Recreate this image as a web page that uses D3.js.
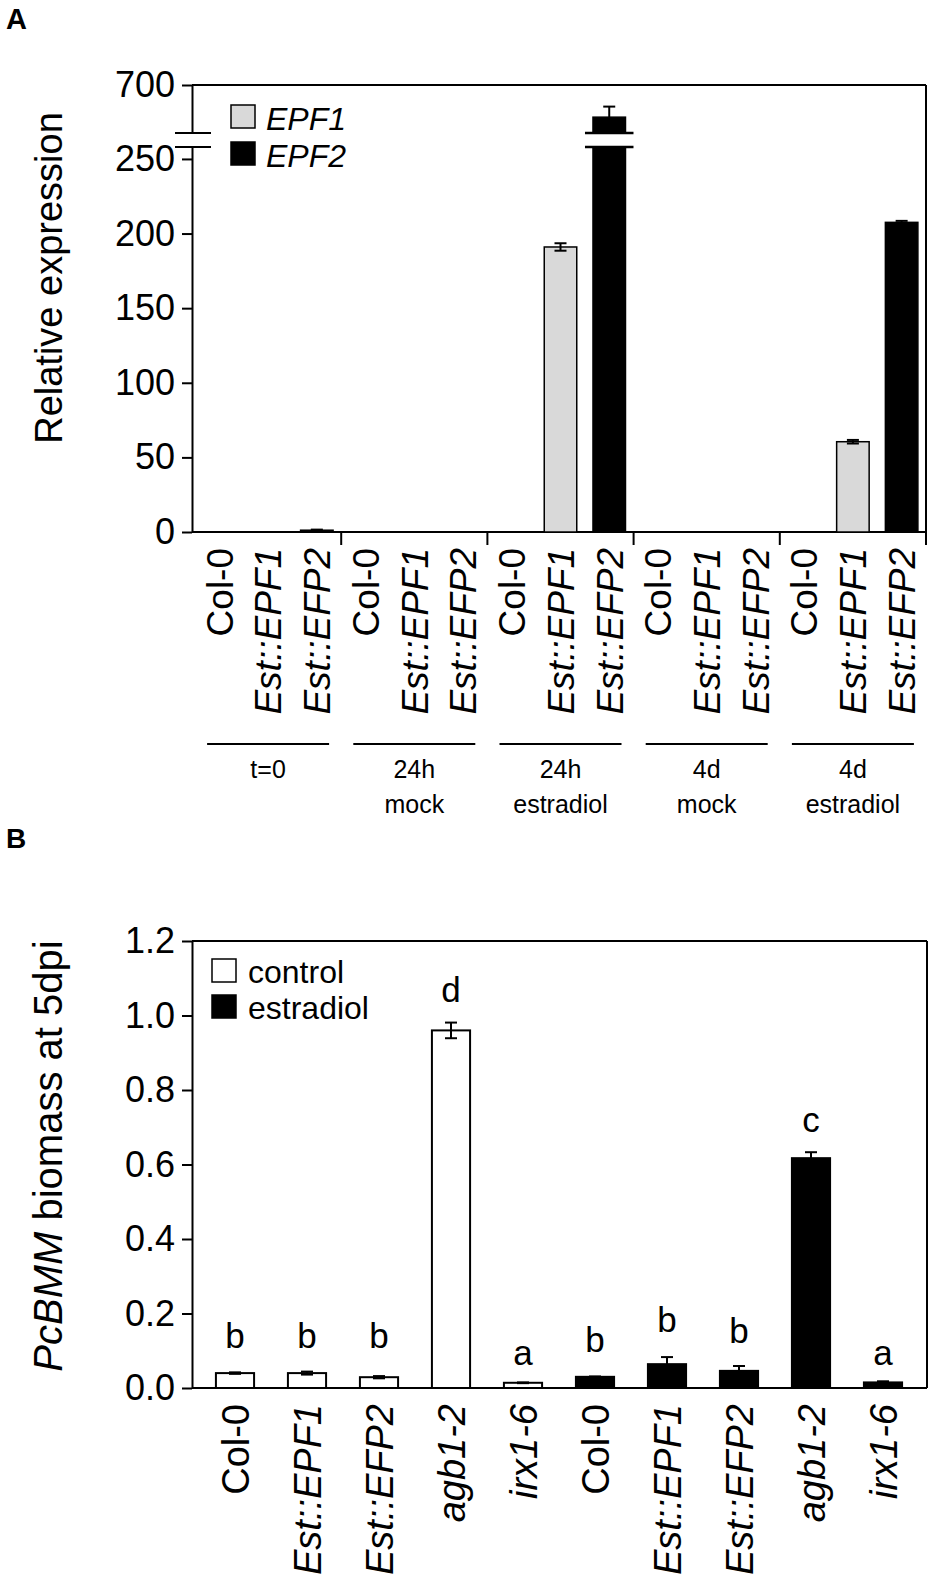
<!DOCTYPE html>
<html><head><meta charset="utf-8">
<script src="https://cdn.jsdelivr.net/npm/d3@7"></script>
<style>
body{margin:0;background:#fff}
text{font-family:"Liberation Sans",Arial,Helvetica,sans-serif;fill:#000}
</style>
</head><body>
<svg id="chart" width="934" height="1590"></svg>
<script>
// ---------- Panel A data ----------
const groupLine1 = ["t=0", "24h", "24h", "4d", "4d"];
const groupLine2 = ["", "mock", "estradiol", "mock", "estradiol"];
const linesA = ["Col-0", "Est::EPF1", "Est::EFP2"];
const geneA = ["none", "EPF1", "EPF2"];
const valuesA = [0, 0, 1.2,   0, 0, 0,   0, 191, 633,   0, 0, 0,   0, 60.5, 207.5];
const errorsA = [0, 0, 0.4,   0, 0, 0,   0, 2.5, 22,    0, 0, 0,   0, 1.2, 1];
const legendA = ["EPF1", "EPF2"];
const ticksALower = [0, 50, 100, 150, 200, 250];
const ticksAUpper = [700];

// ---------- Panel B data ----------
const genotypesB = ["Col-0", "Est::EPF1", "Est::EFP2", "agb1-2", "irx1-6",
                    "Col-0", "Est::EPF1", "Est::EFP2", "agb1-2", "irx1-6"];
const treatmentB = ["control", "control", "control", "control", "control",
                    "estradiol", "estradiol", "estradiol", "estradiol", "estradiol"];
const valuesB = [0.040, 0.040, 0.029, 0.960, 0.014,  0.030, 0.064, 0.046, 0.617, 0.015];
const errorsB = [0.002, 0.004, 0.003, 0.021, 0.001,  0.001, 0.019, 0.013, 0.016, 0.003];
const lettersB = ["b", "b", "b", "d", "a", "b", "b", "b", "c", "a"];
const letterPosB = [0.107, 0.107, 0.107, 1.035, 0.062, 0.097, 0.150, 0.120, 0.686, 0.062];
const legendB = ["control", "estradiol"];
const ticksB = [0, 0.2, 0.4, 0.6, 0.8, 1.0, 1.2];

const svg = d3.select("#chart");
const FONT = '"Liberation Sans",Arial,Helvetica,sans-serif';
const fillGene = {none: "#fff", EPF1: "#d9d9d9", EPF2: "#000"};
const fillTreat = {control: "#fff", estradiol: "#000"};

// ============ PANEL A ============
svg.append("text").attr("x", 6).attr("y", 29).attr("font-size", 29).attr("font-weight", "bold").text("A");

const A = {left: 192, right: 926, top: 85, bottom: 532, breakHi: 133, breakLo: 147};
const catsA = [];
groupLine1.forEach((g, gi) => linesA.forEach((l, li) => catsA.push({g: gi, l: li, key: gi + "_" + li})));
catsA.forEach((c, i) => { c.v = valuesA[i]; c.e = errorsA[i]; c.gene = geneA[c.l]; c.label = linesA[c.l]; });

const xA = d3.scaleBand().domain(catsA.map(c => c.key)).range([195, 926]).paddingInner(0.333).paddingOuter(0.1665);
const yLow = d3.scaleLinear().domain([0, 258]).range([A.bottom, A.breakLo]);
const yUp = d3.scaleLinear().domain([600, 700]).range([A.breakHi, A.top]);

function styleAxis(g, fs) {
  g.selectAll("path,line").attr("stroke", "#000").attr("stroke-width", 2);
  g.selectAll("text").attr("font-size", fs).attr("font-family", FONT).attr("fill", "#000");
}
const axLow = svg.append("g").attr("transform", `translate(${A.left},0)`)
  .call(d3.axisLeft(yLow).tickValues(ticksALower).tickSize(10).tickSizeOuter(0).tickPadding(7));
styleAxis(axLow, 36);
const axUp = svg.append("g").attr("transform", `translate(${A.left},0)`)
  .call(d3.axisLeft(yUp).tickValues(ticksAUpper).tickSize(10).tickSizeOuter(0).tickPadding(7));
styleAxis(axUp, 36);
// axis break marks
[A.breakHi, A.breakLo].forEach(y => svg.append("line").attr("x1", A.left - 17).attr("x2", A.left + 19)
  .attr("y1", y).attr("y2", y).attr("stroke", "#000").attr("stroke-width", 2));
// frame
svg.append("line").attr("x1", A.left).attr("x2", A.right).attr("y1", A.top).attr("y2", A.top).attr("stroke", "#000").attr("stroke-width", 2);
svg.append("line").attr("x1", A.right).attr("x2", A.right).attr("y1", A.top).attr("y2", A.bottom + 13).attr("stroke", "#000").attr("stroke-width", 2);
svg.append("line").attr("x1", A.left).attr("x2", A.right).attr("y1", A.bottom).attr("y2", A.bottom).attr("stroke", "#000").attr("stroke-width", 2);

// group separators
const stepA = xA.step();
const groupStart = gi => xA(gi + "_0") - stepA * 0.1665;
for (let gi = 1; gi < groupLine1.length; gi++) {
  const x = groupStart(gi);
  svg.append("line").attr("x1", x).attr("x2", x).attr("y1", A.bottom).attr("y2", A.bottom + 13).attr("stroke", "#000").attr("stroke-width", 2);
}

// bars A
const barsA = svg.append("g");
catsA.filter(c => c.gene !== "none" && c.v > 0).forEach(c => {
  const x0 = xA(c.key), w = xA.bandwidth(), cx = x0 + w / 2;
  const fill = fillGene[c.gene];
  if (c.v > 258) {
    barsA.append("rect").attr("x", x0).attr("y", A.breakLo).attr("width", w).attr("height", A.bottom - A.breakLo)
      .attr("fill", fill).attr("stroke", "#000").attr("stroke-width", 1.5);
    barsA.append("rect").attr("x", x0).attr("y", yUp(c.v)).attr("width", w).attr("height", A.breakHi - yUp(c.v))
      .attr("fill", fill).attr("stroke", "#000").attr("stroke-width", 1.5);
    [A.breakHi, A.breakLo].forEach(y => barsA.append("line").attr("x1", x0 - 8).attr("x2", x0 + w + 8)
      .attr("y1", y).attr("y2", y).attr("stroke", "#000").attr("stroke-width", 2.5));
    const yt = yUp(c.v + c.e);
    barsA.append("line").attr("x1", cx).attr("x2", cx).attr("y1", yUp(c.v)).attr("y2", yt).attr("stroke", "#000").attr("stroke-width", 2);
    barsA.append("line").attr("x1", cx - 6).attr("x2", cx + 6).attr("y1", yt).attr("y2", yt).attr("stroke", "#000").attr("stroke-width", 2);
  } else {
    barsA.append("rect").attr("x", x0).attr("y", yLow(c.v)).attr("width", w).attr("height", A.bottom - yLow(c.v))
      .attr("fill", fill).attr("stroke", "#000").attr("stroke-width", 1.5);
    const yt = yLow(c.v + c.e), yb = yLow(c.v - c.e);
    barsA.append("line").attr("x1", cx).attr("x2", cx).attr("y1", yb).attr("y2", yt).attr("stroke", "#000").attr("stroke-width", 2);
    [yt, yb].forEach(y => barsA.append("line").attr("x1", cx - 6).attr("x2", cx + 6).attr("y1", y).attr("y2", y).attr("stroke", "#000").attr("stroke-width", 2));
  }
});

// category labels A
catsA.forEach(c => {
  const cx = xA(c.key) + xA.bandwidth() / 2;
  svg.append("text").attr("transform", `translate(${cx},548) rotate(-90)`)
    .attr("text-anchor", "end").attr("dy", "0.36em").attr("font-size", 37)
    .attr("font-style", c.label === "Col-0" ? "normal" : "italic").text(c.label);
});
// group lines and labels
groupLine1.forEach((g, gi) => {
  const cx = groupStart(gi) + stepA * 1.5;
  svg.append("line").attr("x1", cx - 61).attr("x2", cx + 61).attr("y1", 744).attr("y2", 744).attr("stroke", "#000").attr("stroke-width", 2);
  svg.append("text").attr("x", cx).attr("y", 778).attr("text-anchor", "middle").attr("font-size", 25).text(g);
  if (groupLine2[gi]) svg.append("text").attr("x", cx).attr("y", 813).attr("text-anchor", "middle").attr("font-size", 25).text(groupLine2[gi]);
});

// y title A
svg.append("text").attr("transform", "translate(48,278) rotate(-90)").attr("text-anchor", "middle")
  .attr("dy", "0.36em").attr("font-size", 38).text("Relative expression");

// legend A
legendA.forEach((k, i) => {
  const y = 105 + i * 37;
  svg.append("rect").attr("x", 231).attr("y", y).attr("width", 24).attr("height", 23)
    .attr("fill", fillGene[k]).attr("stroke", "#000").attr("stroke-width", 1.5);
  svg.append("text").attr("x", 266).attr("y", y + 25).attr("font-size", 32).attr("font-style", "italic").text(k);
});

// ============ PANEL B ============
svg.append("text").attr("x", 6).attr("y", 848).attr("font-size", 28).attr("font-weight", "bold").text("B");

const B = {left: 192, right: 927, top: 941, bottom: 1388};
const catsB = genotypesB.map((g, i) => ({key: i, label: g, t: treatmentB[i], v: valuesB[i], e: errorsB[i], letter: lettersB[i], lp: letterPosB[i]}));
const xB = d3.scaleBand().domain(catsB.map(c => c.key)).range([199, 919]).paddingInner(0.47).paddingOuter(0.235);
const yB = d3.scaleLinear().domain([0, 1.2]).range([B.bottom, B.top]);

const axB = svg.append("g").attr("transform", `translate(${B.left},0)`)
  .call(d3.axisLeft(yB).tickValues(ticksB).tickFormat(d3.format(".1f")).tickSize(10).tickSizeOuter(0).tickPadding(7));
styleAxis(axB, 36);
svg.append("line").attr("x1", B.left).attr("x2", B.right).attr("y1", B.top).attr("y2", B.top).attr("stroke", "#000").attr("stroke-width", 2);
svg.append("line").attr("x1", B.right).attr("x2", B.right).attr("y1", B.top).attr("y2", B.bottom).attr("stroke", "#000").attr("stroke-width", 2);
svg.append("line").attr("x1", B.left).attr("x2", B.right).attr("y1", B.bottom).attr("y2", B.bottom).attr("stroke", "#000").attr("stroke-width", 2);

catsB.forEach(c => {
  const x0 = xB(c.key), w = xB.bandwidth(), cx = x0 + w / 2;
  svg.append("rect").attr("x", x0).attr("y", yB(c.v)).attr("width", w).attr("height", B.bottom - yB(c.v))
    .attr("fill", fillTreat[c.t]).attr("stroke", "#000").attr("stroke-width", 2);
  const yt = yB(c.v + c.e), yb = yB(c.v - c.e);
  svg.append("line").attr("x1", cx).attr("x2", cx).attr("y1", yb).attr("y2", yt).attr("stroke", "#000").attr("stroke-width", 2);
  [yt, yb].forEach(y => svg.append("line").attr("x1", cx - 6).attr("x2", cx + 6).attr("y1", y).attr("y2", y).attr("stroke", "#000").attr("stroke-width", 2));
  svg.append("text").attr("x", cx).attr("y", yB(c.lp)).attr("text-anchor", "middle").attr("font-size", 35).text(c.letter);
  svg.append("text").attr("transform", `translate(${cx},1404) rotate(-90)`)
    .attr("text-anchor", "end").attr("dy", "0.36em").attr("font-size", 38)
    .attr("font-style", c.label === "Col-0" ? "normal" : "italic").text(c.label);
});

// y title B
const tB = svg.append("text").attr("transform", "translate(48,1156) rotate(-90)").attr("text-anchor", "middle")
  .attr("dy", "0.36em").attr("font-size", 40);
tB.append("tspan").attr("font-style", "italic").text("PcBMM");
tB.append("tspan").text(" biomass at 5dpi");

// legend B
legendB.forEach((k, i) => {
  const y = 959 + i * 36;
  svg.append("rect").attr("x", 212).attr("y", y).attr("width", 24).attr("height", 23)
    .attr("fill", fillTreat[k]).attr("stroke", "#000").attr("stroke-width", 1.5);
  svg.append("text").attr("x", 248).attr("y", y + 24).attr("font-size", 32).text(k);
});
</script>
</body></html>
